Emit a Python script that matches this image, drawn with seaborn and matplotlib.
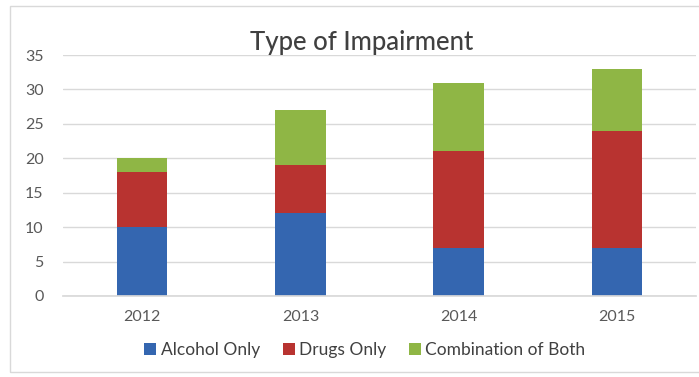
import matplotlib
matplotlib.use("Agg")
import matplotlib.pyplot as plt
import seaborn as sns
import pandas as pd
import numpy as np
from matplotlib.patches import Rectangle

years = ["2012", "2013", "2014", "2015"]
alcohol_only = [10, 12, 7, 7]
drugs_only = [8, 7, 14, 17]
combination = [2, 8, 10, 9]
series_names = ["Alcohol Only", "Drugs Only", "Combination of Both"]
colors = ["#3466b0", "#b83330", "#8fb645"]

sns.set_theme(style="white")
plt.rcParams['font.family'] = ['Lato', 'DejaVu Sans']

fig = plt.figure(figsize=(6.99, 3.77), dpi=100)
ax = fig.add_axes([0.090, 0.215, 0.906, 0.639])

# chart border
fig.patches.append(Rectangle((10/699, 5/377), 700/699, 366/377, transform=fig.transFigure,
                             fill=False, edgecolor="#d9d9d9", lw=1))

df = pd.DataFrame({"year": years, "a": alcohol_only, "d": drugs_only, "c": combination})
bottoms = np.zeros(len(years))
for col, name, colr in zip(["a", "d", "c"], series_names, colors):
    sns.barplot(data=df, x="year", y=col, bottom=bottoms, color=colr, width=0.32,
                ax=ax, label=name, saturation=1, linewidth=0)
    bottoms = bottoms + df[col].values

ax.set_ylim(0, 35)
ax.set_xlim(-0.5, 3.5)
ax.set_yticks(range(0, 36, 5))
ax.yaxis.grid(True, color="#d9d9d9", lw=1)
ax.set_axisbelow(True)
for s in ["top", "right", "left"]:
    ax.spines[s].set_visible(False)
ax.spines["bottom"].set_color("#d9d9d9")
ax.tick_params(axis="both", colors="#595959", labelsize=11.5, length=0)
ax.tick_params(axis="y", pad=14)
ax.tick_params(axis="x", pad=10)
ax.set_xlabel("")
ax.set_ylabel("")

fig.text(0.518, 0.888, "Type of Impairment", ha="center", va="center",
         fontsize=18.5, color="#404040", fontweight="medium")

handles, labels = ax.get_legend_handles_labels()
fig.legend(handles, labels, loc="center", bbox_to_anchor=(0.522, 0.072), ncol=3,
           frameon=False, fontsize=12.5, handlelength=0.7, handleheight=0.7,
           handletextpad=0.25, columnspacing=1.3, labelcolor="#404040")
if ax.get_legend():
    ax.get_legend().remove()

fig.savefig("out.png", dpi=100)
